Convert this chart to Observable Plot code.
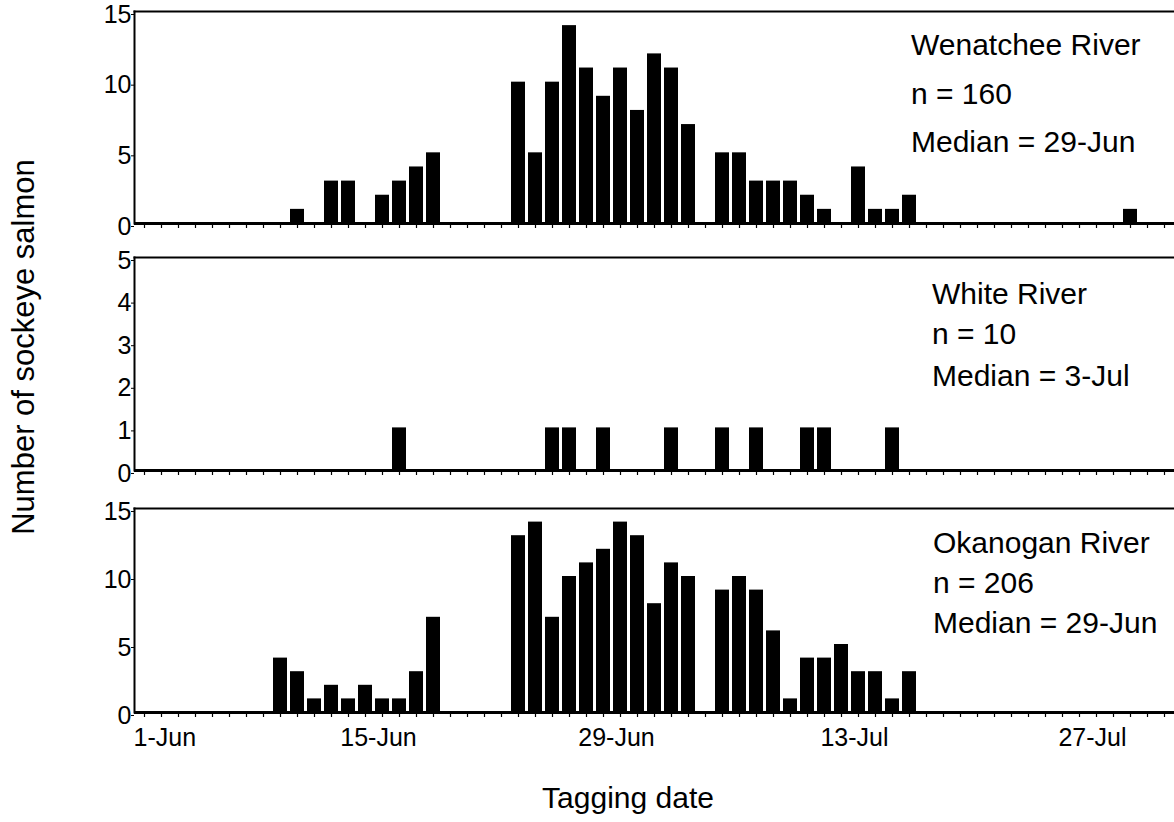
<!DOCTYPE html>
<html>
<head>
<meta charset="utf-8">
<script src="https://cdn.jsdelivr.net/npm/d3@7"></script>
<script src="https://cdn.jsdelivr.net/npm/@observablehq/plot@0.6"></script>
<style>
  body { margin: 0; background: #fff; }
  #chart { position: relative; width: 1174px; height: 822px; overflow: hidden;
           font-family: "Liberation Sans", Arial, sans-serif; }
  #chart > svg { position: absolute; left: 0; }
  #notes { top: 0; pointer-events: none; }
</style>
</head>
<body>
<div id="chart"></div>
<script>
// Tagging days shown on the x axis (1-Jun through 31-Jul) and the labelled days
const dayFormat = d3.utcFormat("%-d-%b");
const allDays = d3.utcDay.range(new Date(Date.UTC(2000, 5, 1)), new Date(Date.UTC(2000, 7, 1))).map(dayFormat);
const labelDays = ["1-Jun", "15-Jun", "29-Jun", "13-Jul", "27-Jul"];

// Wenatchee River: daily counts of tagged sockeye
const wenatcheeDates = ["10-Jun", "12-Jun", "13-Jun", "15-Jun", "16-Jun", "17-Jun", "18-Jun",
  "23-Jun", "24-Jun", "25-Jun", "26-Jun", "27-Jun", "28-Jun", "29-Jun", "30-Jun", "1-Jul", "2-Jul", "3-Jul",
  "5-Jul", "6-Jul", "7-Jul", "8-Jul", "9-Jul", "10-Jul", "11-Jul", "13-Jul", "14-Jul", "15-Jul", "16-Jul", "29-Jul"];
const wenatcheeCounts = [1, 3, 3, 2, 3, 4, 5,
  10, 5, 10, 14, 11, 9, 11, 8, 12, 11, 7,
  5, 5, 3, 3, 3, 2, 1, 4, 1, 1, 2, 1];

// White River
const whiteDates = ["16-Jun", "25-Jun", "26-Jun", "28-Jun", "2-Jul", "5-Jul", "7-Jul", "10-Jul", "11-Jul", "15-Jul"];
const whiteCounts = [1, 1, 1, 1, 1, 1, 1, 1, 1, 1];

// Okanogan River
const okanoganDates = ["9-Jun", "10-Jun", "11-Jun", "12-Jun", "13-Jun", "14-Jun", "15-Jun", "16-Jun", "17-Jun", "18-Jun",
  "23-Jun", "24-Jun", "25-Jun", "26-Jun", "27-Jun", "28-Jun", "29-Jun", "30-Jun", "1-Jul", "2-Jul", "3-Jul",
  "5-Jul", "6-Jul", "7-Jul", "8-Jul", "9-Jul", "10-Jul", "11-Jul", "12-Jul", "13-Jul", "14-Jul", "15-Jul", "16-Jul"];
const okanoganCounts = [4, 3, 1, 2, 1, 2, 1, 1, 3, 7,
  13, 14, 7, 10, 11, 12, 14, 13, 8, 11, 10,
  9, 10, 9, 6, 1, 4, 4, 5, 3, 3, 1, 3];

// Panel annotations
const wenatcheeNotes = ["Wenatchee River", "n = 160", "Median = 29-Jun"];
const whiteNotes = ["White River", "n = 10", "Median = 3-Jul"];
const okanoganNotes = ["Okanogan River", "n = 206", "Median = 29-Jun"];

const FONT = "Liberation Sans, Arial, sans-serif";
const chart = document.getElementById("chart");

function riverPanel(dates, counts, yMax, yTicks, layout) {
  const rows = dates.map((day, i) => ({day, count: counts[i]}));
  const marks = [
    Plot.barY(rows, {x: "day", y: "count", fill: "#000"}),
    Plot.frame({anchor: "top", stroke: "#000", strokeWidth: 2}),
    Plot.frame({anchor: "left", stroke: "#000", strokeWidth: 2}),
    // daily tick marks under the baseline
    Plot.axisX({ticks: allDays, anchor: "bottom", tickSize: 5, tickFormat: () => "", label: null,
                stroke: "#000", strokeWidth: 1.2}),
    Plot.ruleY([0], {stroke: "#000", strokeWidth: 3}),
    Plot.axisY({ticks: yTicks, anchor: "left", tickSize: 3, tickPadding: 0, fontSize: 25, dy: 3,
                tickFormat: d => String(d), label: null, stroke: "#000", fill: "#000"})
  ];
  if (layout.labels) {
    marks.push(
      Plot.axisX({ticks: labelDays.slice(0, 1), anchor: "bottom", tickSize: 0, tickPadding: 16, label: null,
                  fontSize: 25, textAnchor: "start", dx: -11, fill: "#000"}),
      Plot.axisX({ticks: labelDays.slice(1), anchor: "bottom", tickSize: 0, tickPadding: 16, label: null,
                  fontSize: 25, dx: -4, fill: "#000"})
    );
  }
  const svg = Plot.plot({
    width: 1174,
    height: layout.height,
    marginLeft: 134,
    marginRight: 0,
    marginTop: layout.marginTop,
    marginBottom: layout.marginBottom,
    style: {fontFamily: FONT, fontSize: "25px", color: "#000", background: "transparent", overflow: "visible"},
    x: {type: "band", domain: allDays, paddingInner: 0.16, paddingOuter: 0.08, label: null},
    y: {domain: [0, yMax], label: null},
    marks
  });
  svg.style.top = layout.top + "px";
  chart.appendChild(svg);
}

riverPanel(wenatcheeDates, wenatcheeCounts, 15, [0, 5, 10, 15],
  {top: 0, height: 240, marginTop: 11, marginBottom: 17});
riverPanel(whiteDates, whiteCounts, 5, [0, 1, 2, 3, 4, 5],
  {top: 240, height: 250, marginTop: 17, marginBottom: 20});
riverPanel(okanoganDates, okanoganCounts, 15, [0, 5, 10, 15],
  {top: 490, height: 332, marginTop: 18, marginBottom: 110, labels: true});

// Overlay: panel notes and axis titles
const notes = d3.select(chart).append("svg")
  .attr("id", "notes")
  .attr("width", 1174).attr("height", 822)
  .style("font-family", FONT).style("fill", "#000");

function noteBlock(lines, x, baselines) {
  notes.append("g").selectAll("text").data(lines).join("text")
    .attr("x", x).attr("y", (d, i) => baselines[i])
    .attr("font-size", 30)
    .text(d => d);
}
noteBlock(wenatcheeNotes, 911, [55, 104, 152]);
noteBlock(whiteNotes, 932, [304, 344, 386]);
noteBlock(okanoganNotes, 933, [553, 593, 633]);

notes.append("text")
  .attr("transform", "translate(34,347) rotate(-90)")
  .attr("text-anchor", "middle").attr("font-size", 31)
  .text("Number of sockeye salmon");
notes.append("text")
  .attr("x", 628).attr("y", 808)
  .attr("text-anchor", "middle").attr("font-size", 30)
  .text("Tagging date");
</script>
</body>
</html>
